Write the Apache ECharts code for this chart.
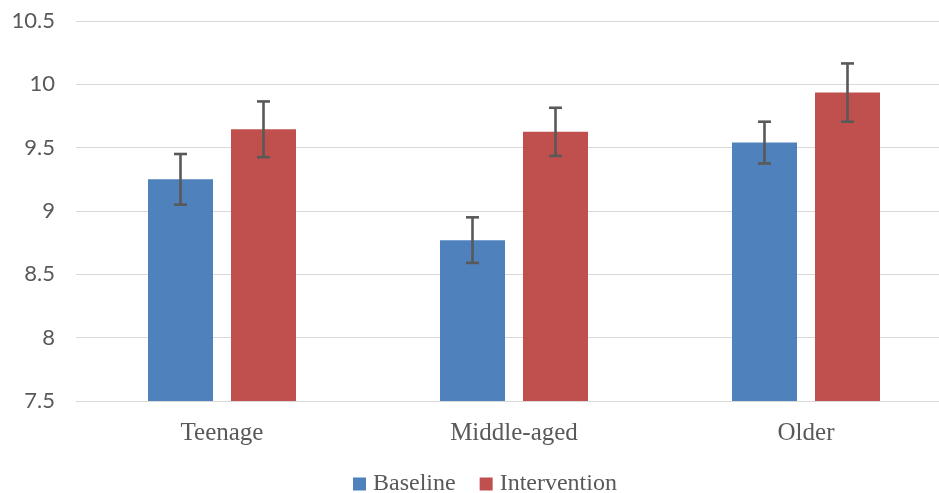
<!DOCTYPE html>
<html>
<head>
<meta charset="utf-8">
<script src="https://cdn.jsdelivr.net/npm/echarts@6/dist/echarts.min.js"></script>
<style>html,body{margin:0;padding:0;background:#fff;overflow:hidden;}#c{width:960px;height:493px;}</style>
</head>
<body>
<div id="c"></div>
<script>
const categories = ['Teenage', 'Middle-aged', 'Older'];
const seriesNames = ['Baseline', 'Intervention'];
const baseline = [9.25, 8.77, 9.54];
const baselineErr = [0.20, 0.18, 0.165];
const intervention = [9.645, 9.625, 9.935];
const interventionErr = [0.22, 0.19, 0.23];
const yTicks = [7.5, 8, 8.5, 9, 9.5, 10, 10.5];

const BAR_W = 65, BAR_GAP = 18;
const colors = ['#4F81BD', '#C0504D'];

function errData(vals, errs) {
  return vals.map((v, i) => [i, v - errs[i], v + errs[i]]);
}
function errRender(offset) {
  return function (params, api) {
    const i = api.value(0);
    const lo = api.coord([i, api.value(1)]);
    const hi = api.coord([i, api.value(2)]);
    const x = lo[0] + offset;
    const cap = 6.5;
    const style = { stroke: '#595959', lineWidth: 2.6 };
    return {
      type: 'group',
      children: [
        { type: 'line', shape: { x1: x, y1: lo[1], x2: x, y2: hi[1] }, style: style },
        { type: 'line', shape: { x1: x - cap, y1: lo[1], x2: x + cap, y2: lo[1] }, style: style },
        { type: 'line', shape: { x1: x - cap, y1: hi[1], x2: x + cap, y2: hi[1] }, style: style }
      ]
    };
  };
}

const chart = echarts.init(document.getElementById('c'), null, { renderer: 'canvas' });
const off = (BAR_W + BAR_GAP) / 2;
chart.setOption({
  animation: false,
  grid: { left: 76, top: 21, width: 876, height: 380 },
  legend: {
    data: seriesNames,
    left: 348, top: 467,
    itemWidth: 13, itemHeight: 13, itemGap: 24,
    icon: 'rect',
    textStyle: { fontFamily: 'Liberation Serif', fontSize: 24, color: '#595959', padding: [0,0,0,2] }
  },
  xAxis: {
    type: 'category',
    data: categories,
    axisLine: { lineStyle: { color: '#D9D9D9', width: 1 } },
    axisTick: { show: false },
    axisLabel: { fontFamily: 'Liberation Serif', fontSize: 25, color: '#595959', margin: 20 }
  },
  yAxis: {
    type: 'value',
    min: yTicks[0], max: yTicks[yTicks.length - 1], interval: 0.5,
    axisLine: { show: false },
    axisTick: { show: false },
    splitLine: { lineStyle: { color: '#D9D9D9', width: 1 } },
    axisLabel: { fontFamily: 'Lato', fontSize: 22, color: '#595959', margin: 21 }
  },
  series: [
    { name: seriesNames[0], type: 'bar', data: baseline, barWidth: BAR_W, barGap: (BAR_GAP / BAR_W * 100) + '%', itemStyle: { color: colors[0] } },
    { name: seriesNames[1], type: 'bar', data: intervention, barWidth: BAR_W, itemStyle: { color: colors[1] } },
    { type: 'custom', data: errData(baseline, baselineErr), renderItem: errRender(-off), z: 10, encode: { x: 0, y: [1, 2] } },
    { type: 'custom', data: errData(intervention, interventionErr), renderItem: errRender(off), z: 10, encode: { x: 0, y: [1, 2] } }
  ]
});
</script>
</body>
</html>
